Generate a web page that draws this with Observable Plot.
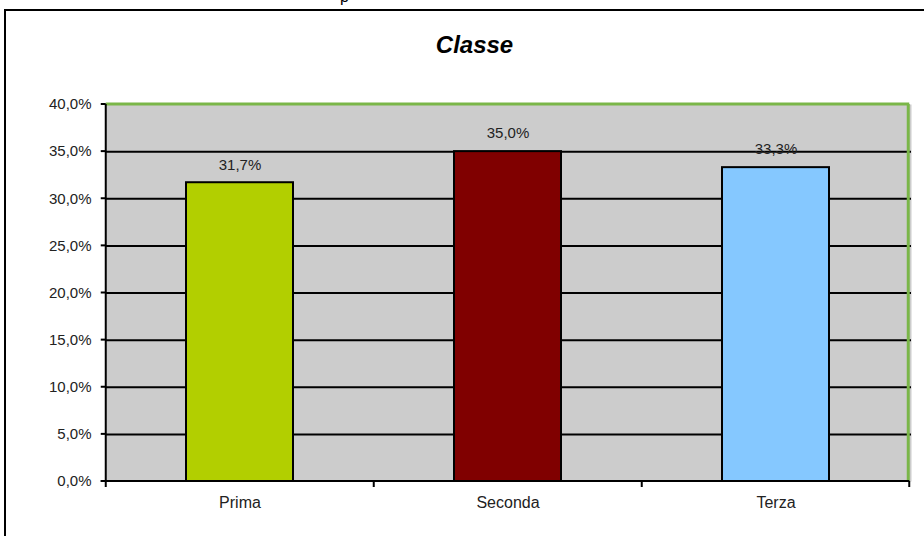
<!DOCTYPE html>
<html>
<head>
<meta charset="utf-8">
<script src="https://cdn.jsdelivr.net/npm/d3@7"></script>
<script src="https://cdn.jsdelivr.net/npm/@observablehq/plot@0.6"></script>
<style>
  html, body { margin: 0; padding: 0; background: #fff; }
  #wrap { position: relative; width: 924px; height: 536px; overflow: hidden; }
  #border { position: absolute; left: 4px; top: 9px; width: 1000px; height: 1000px; border: 2px solid #000; box-sizing: border-box; pointer-events: none; }
  #top { position: absolute; left: 340px; top: -12px; font: 16px "Liberation Sans", Arial, sans-serif; color: #000; }
</style>
</head>
<body>
<div id="wrap"><div id="top">p</div><div id="border"></div></div>
<script>
const title = "Classe";
const categories = ["Prima", "Seconda", "Terza"];
const values = [31.7, 35.0, 33.3];
const colors = ["#b2cf00", "#800000", "#85c8ff"];
const yTicks = [0, 5, 10, 15, 20, 25, 30, 35, 40];

const data = categories.map((c, i) => ({ cat: c, value: values[i], color: colors[i] }));
const fmt = d => d.toFixed(1).replace(".", ",") + "%";
const font = "'Liberation Sans', Arial, sans-serif";
const green = "#7ab648";

// axis lines, plot border and tick marks, positioned through the scales
function axesMark(index, scales, vals, dims) {
  const x = scales.x, y = scales.y;
  const bw = x.bandwidth();
  const step = bw / 0.4;
  const left = x(categories[0]) + bw / 2 - step / 2;
  const right = x(categories[categories.length - 1]) + bw / 2 + step / 2;
  const y0 = y(0), yTop = y(40);
  const g = d3.create("svg:g");
  g.append("line").attr("x1", right - 1).attr("x2", right - 1).attr("y1", yTop).attr("y2", y0)
    .attr("stroke", green).attr("stroke-width", 3);
  g.append("line").attr("x1", left).attr("x2", right).attr("y1", yTop).attr("y2", yTop)
    .attr("stroke", green).attr("stroke-width", 3);
  g.append("line").attr("x1", left).attr("x2", left).attr("y1", yTop).attr("y2", y0 + 1)
    .attr("stroke", "#000").attr("stroke-width", 2);
  g.append("line").attr("x1", left - 5).attr("x2", right).attr("y1", y0).attr("y2", y0)
    .attr("stroke", "#000").attr("stroke-width", 2);
  for (const t of yTicks) {
    g.append("line").attr("x1", left - 5).attr("x2", left).attr("y1", y(t)).attr("y2", y(t))
      .attr("stroke", "#000").attr("stroke-width", 2);
  }
  const xs = categories.map(c => x(c) + bw / 2 - step / 2);
  xs.push(right);
  for (const px of xs) {
    g.append("line").attr("x1", px).attr("x2", px).attr("y1", y0).attr("y2", y0 + 6)
      .attr("stroke", "#000").attr("stroke-width", 2);
  }
  return g.node();
}

const chart = Plot.plot({
  width: 924,
  height: 536,
  marginLeft: 105,
  marginRight: 13,
  marginTop: 104,
  marginBottom: 55,
  style: { fontFamily: font, background: "transparent" },
  x: { domain: categories, paddingInner: 0.6, paddingOuter: 0.3, axis: null },
  y: { domain: [0, 40], axis: null },
  marks: [
    Plot.frame({ fill: "#cccccc", stroke: null }),
    Plot.ruleY(yTicks.filter(d => d > 0 && d < 40), { stroke: "#000", strokeWidth: 2 }),
    Plot.barY(data, { x: "cat", y: "value", fill: "color", stroke: "#000", strokeWidth: 2 }),
    Plot.text(data, { x: "cat", y: "value", text: d => fmt(d.value), dy: -18, fontSize: 15, fill: "#222" }),
    axesMark,
    Plot.text(yTicks, { y: d => d, text: d => fmt(d), frameAnchor: "left", textAnchor: "end", dx: -14, fontSize: 15, fill: "#222" }),
    Plot.text(categories, { x: d => d, text: d => d, frameAnchor: "bottom", dy: 26, fontSize: 16, fill: "#222" }),
    Plot.text([title], { text: d => d, frameAnchor: "top", dx: -34, dy: -69, fontSize: 24, fontWeight: "bold", fontStyle: "italic", fill: "#000" })
  ]
});
document.getElementById("wrap").prepend(chart);
chart.style.position = "absolute";
chart.style.left = "0";
chart.style.top = "0";
</script>
</body>
</html>
